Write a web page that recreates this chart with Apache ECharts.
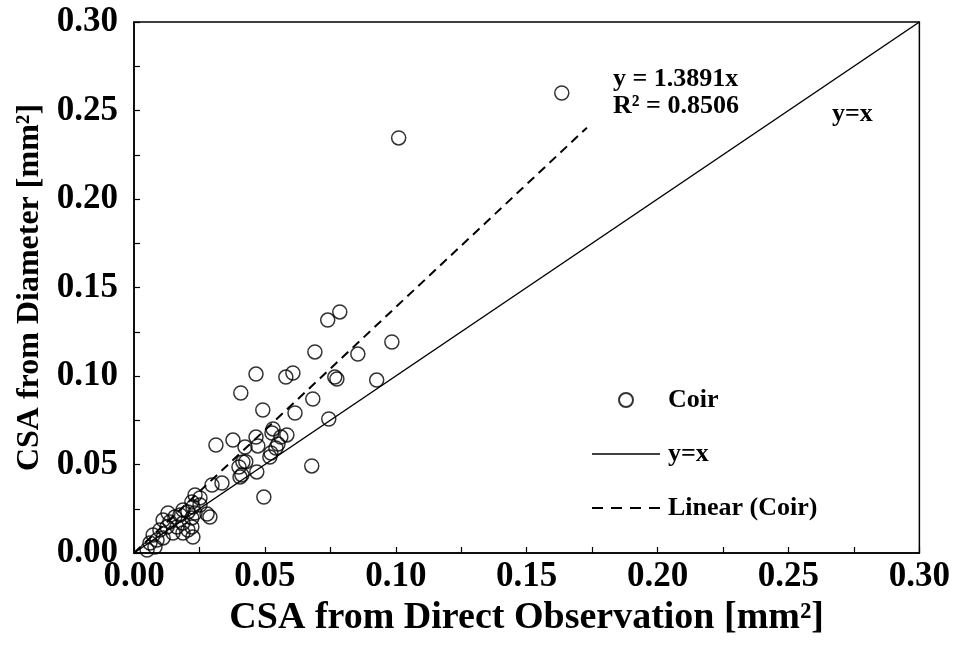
<!DOCTYPE html>
<html>
<head>
<meta charset="utf-8">
<script src="https://cdn.jsdelivr.net/npm/echarts@6/dist/echarts.min.js"></script>
<style>html,body{margin:0;padding:0;background:#fff;}#c{width:953px;height:646px;}</style>
</head>
<body>
<div id="c"></div>
<script>
// Data
var coirX = [0.1634,0.1011,0.0786,0.0740,0.0466,0.0580,0.0607,0.0691,0.0855,0.0985,0.0767,0.0775,0.0927,0.0408,0.0492,0.0615,0.0683,0.0744,0.0679,0.0496,
  0.0313,0.0378,0.0466,0.0531,0.0527,0.0584,0.0561,0.0424,0.0473,0.0550,0.0542,0.0523,0.0519,0.0416,0.0401,0.0469,0.0412,0.0405,0.0336,0.0298,0.0427,
  0.0233,0.0252,0.0221,0.0225,0.0252,0.0206,0.0233,0.0221,0.0187,0.0176,0.0156,0.0130,0.0111,0.0137,0.0126,0.0164,0.0187,0.0221,0.0225,0.0206,0.0187,
  0.0149,0.0099,0.0073,0.0088,0.0111,0.0061,0.0080,0.0050,0.0279,0.0290];
var coirY = [0.2599,0.2345,0.1362,0.1316,0.1011,0.0994,0.1017,0.1136,0.1124,0.1192,0.0994,0.0983,0.0977,0.0904,0.0808,0.0791,0.0870,0.0757,0.0492,0.0316,
  0.0610,0.0638,0.0655,0.0701,0.0678,0.0667,0.0655,0.0599,0.0605,0.0616,0.0593,0.0565,0.0542,0.0514,0.0486,0.0458,0.0441,0.0429,0.0395,0.0384,0.0516,
  0.0328,0.0311,0.0288,0.0260,0.0271,0.0232,0.0226,0.0198,0.0243,0.0215,0.0203,0.0226,0.0186,0.0175,0.0147,0.0147,0.0169,0.0147,0.0090,0.0130,0.0113,
  0.0113,0.0130,0.0102,0.0073,0.0085,0.0056,0.0034,0.0017,0.0220,0.0203];
var identityX = [0, 0.30];
var identityY = [0, 0.30];
var trendX = [0, 0.173];
var trendY = [0, 0.2403];
var axisTicks = [0, 0.05, 0.10, 0.15, 0.20, 0.25, 0.30];
var seriesNames = ['Coir', 'y=x', 'Linear (Coir)'];
var equationText = ['y = 1.3891x', 'R\u00b2 = 0.8506'];
var identityLabel = 'y=x';

function zip(a, b) { return a.map(function (v, i) { return [v, b[i]]; }); }

var FONT = 'Liberation Serif';
var chart = echarts.init(document.getElementById('c'));
function axisCommon(name, nameGap, nameSize) {
  return {
    type: 'value', min: axisTicks[0], max: axisTicks[axisTicks.length - 1], interval: 0.05,
    name: name, nameLocation: 'middle', nameGap: nameGap,
    nameTextStyle: { fontFamily: FONT, fontWeight: 'bold', fontSize: nameSize, color: '#000' },
    axisLine: { show: true, lineStyle: { color: '#000', width: 1.5 } },
    axisTick: { show: true, inside: true, length: 6, lineStyle: { color: '#000', width: 1.2 } },
    minorTick: { show: true, splitNumber: 2, length: 6, lineStyle: { color: '#000', width: 1.2 } },
    splitLine: { show: false },
    axisLabel: { fontFamily: FONT, fontWeight: 'bold', fontSize: 35, color: '#000',
      formatter: function (v) { return v.toFixed(2); } }
  };
}
var xAxis = axisCommon('CSA from Direct Observation [mm\u00b2]', 33, 38);
xAxis.axisLabel.margin = 6;
var yAxis = axisCommon('CSA from Diameter [mm\u00b2]', 88, 32);
yAxis.axisLabel.margin = 16;

var solidIcon = 'path://M0,0H68V1.6H0Z';
var dashIcon = 'path://M0,0H11V2H0Z M19,0H30V2H19Z M38,0H49V2H38Z M57,0H68V2H57Z';

chart.setOption({
  backgroundColor: '#fff',
  animation: false,
  grid: { left: 134, right: 33, top: 22, bottom: 93, show: true, borderColor: '#000', borderWidth: 1.5, backgroundColor: 'transparent' },
  xAxis: xAxis,
  yAxis: yAxis,
  legend: {
    orient: 'vertical', left: 587, top: 382, itemWidth: 68, itemHeight: 14, itemGap: 28,
    textStyle: { fontFamily: FONT, fontWeight: 'bold', fontSize: 26, color: '#000', padding: [0, 0, 0, 3] },
    data: [
      { name: seriesNames[0], icon: 'circle' },
      { name: seriesNames[1], icon: solidIcon },
      { name: seriesNames[2], icon: dashIcon }
    ]
  },
  graphic: [
    { type: 'text', left: 613, top: 66, style: { text: equationText.join('\n'), fontFamily: FONT, fontWeight: 'bold', fontSize: 26, lineHeight: 27, fill: '#000' } },
    { type: 'text', left: 832, top: 101, style: { text: identityLabel, fontFamily: FONT, fontWeight: 'bold', fontSize: 26, fill: '#000' } }
  ],
  series: [
    { name: seriesNames[0], type: 'scatter', data: zip(coirX, coirY), symbol: 'circle', symbolSize: 14,
      itemStyle: { color: 'rgba(255,255,255,0)', borderColor: '#000', borderWidth: 1.5 }, z: 3 },
    { name: seriesNames[1], type: 'line', data: zip(identityX, identityY), symbol: 'none',
      lineStyle: { color: '#000', width: 1.5, type: 'solid' }, itemStyle: { color: '#000' } },
    { name: seriesNames[2], type: 'line', data: zip(trendX, trendY), symbol: 'none',
      lineStyle: { color: '#000', width: 2, type: [9, 6] }, itemStyle: { color: '#000' } }
  ]
});
</script>
</body>
</html>
